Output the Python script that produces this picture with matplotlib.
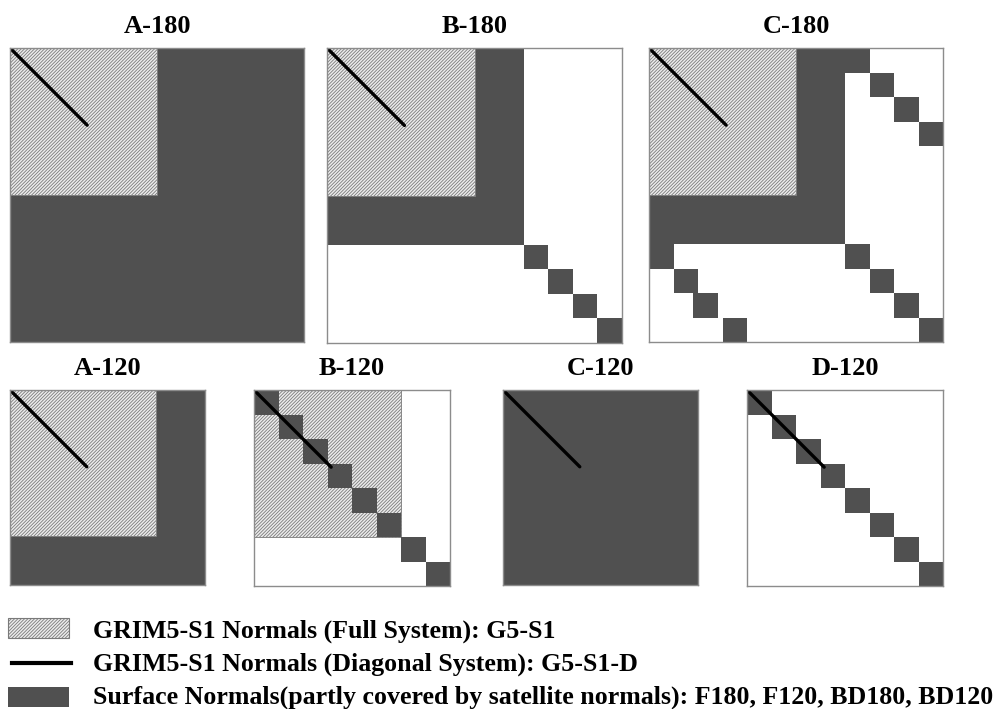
import matplotlib
matplotlib.use("Agg")
import matplotlib.pyplot as plt
from matplotlib.patches import Rectangle
from matplotlib.lines import Line2D

# ---------------- data ----------------
panel_titles = ["A-180", "B-180", "C-180", "A-120", "B-120", "C-120", "D-120"]
matrix_size = [12, 12, 12, 8, 8, 8, 8]            # matrix dimension (blocks)
full_system = [6, 6, 6, 6, 6, 0, 0]               # G5-S1 full block extent
surface_square = [12, 8, 8, 8, 0, 8, 0]          # surface normals square extent
diag_line_end = [3.15, 3.15, 3.15, 3.15, 3.15, 3.15, 3.15]  # G5-S1-D diagonal length
# diagonal surface blocks (row, col)
diag_blocks = [
    [],
    [(8, 8), (9, 9), (10, 10), (11, 11)],
    [(8, 8), (9, 9), (10, 10), (11, 11),
     (0, 8), (1, 9), (2, 10), (3, 11),
     (8, 0), (9, 1), (10, 1.8), (11, 3)],
    [],
    [(0, 0), (1, 1), (2, 2), (3, 3), (4, 4), (5, 5), (6, 6), (7, 7)],
    [],
    [(0, 0), (1, 1), (2, 2), (3, 3), (4, 4), (5, 5), (6, 6), (7, 7)],
]
legend_labels = [
    "GRIM5-S1 Normals (Full System): G5-S1",
    "GRIM5-S1 Normals (Diagonal System): G5-S1-D",
    "Surface Normals(partly covered by satellite normals): F180, F120, BD180, BD120",
]

# ---------------- layout (pixels) ----------------
W, H = 997, 709
boxes = [  # left, top, size
    (10, 48, 294), (327, 48, 295), (649, 48, 294),
    (10, 390, 195), (254, 390, 196), (503, 390, 195), (747, 390, 196),
]

DARK = "#505050"
HATCH_C = "#7a7a7a"
HATCH_BG = "#ececec"
EDGE = "#8c8c8c"
FONT = "Liberation Serif"
HATCH = "/" * 10

plt.rcParams["hatch.linewidth"] = 0.6
plt.rcParams["hatch.color"] = HATCH_C

fig = plt.figure(figsize=(W / 100, H / 100), dpi=100)

for i, title in enumerate(panel_titles):
    l, t, s = boxes[i]
    ax = fig.add_axes([l / W, 1 - (t + s) / H, s / W, s / H])
    n = matrix_size[i]
    ax.set_xlim(0, n)
    ax.set_ylim(n, 0)
    ax.set_xticks([])
    ax.set_yticks([])
    for sp in ax.spines.values():
        sp.set_color(EDGE)
        sp.set_linewidth(1.0)
        sp.set_zorder(10)
    if surface_square[i] > 0:
        e = surface_square[i]
        ax.add_patch(Rectangle((0, 0), e, e, facecolor=DARK, edgecolor="none", zorder=1))
    if full_system[i] > 0:
        e = full_system[i]
        ax.add_patch(Rectangle((0, 0), e, e, facecolor=HATCH_BG, edgecolor=HATCH_C,
                               linewidth=0.6, hatch=HATCH, zorder=2))
    for (r, c) in diag_blocks[i]:
        ax.add_patch(Rectangle((c, r), 1, 1, facecolor=DARK, edgecolor="none", zorder=3))
    d = diag_line_end[i]
    ax.plot([0, d], [0, d], color="black", linewidth=2.4, solid_capstyle="round", zorder=5)
    fig.text((l + s / 2) / W, 1 - (t - 15) / H, title, ha="center", va="baseline",
             fontsize=19, fontweight="bold", family=FONT)

# ---------------- legend ----------------
lg = fig.add_axes([0, 0, 1, 1], facecolor="none")
lg.set_xlim(0, W)
lg.set_ylim(H, 0)
lg.axis("off")
lg.add_patch(Rectangle((8, 618), 61, 20, facecolor=HATCH_BG, edgecolor=HATCH_C,
                       linewidth=0.8, hatch=HATCH))
lg.add_line(Line2D([12, 71], [663, 663], color="black", linewidth=3.0))
lg.add_patch(Rectangle((8, 687), 61, 20, facecolor=DARK, edgecolor="none"))
for y, txt in zip([638, 671, 704], legend_labels):
    lg.text(93, y, txt, ha="left", va="baseline", fontsize=18.6,
            fontweight="bold", family=FONT)

fig.savefig("out.png", dpi=100)
